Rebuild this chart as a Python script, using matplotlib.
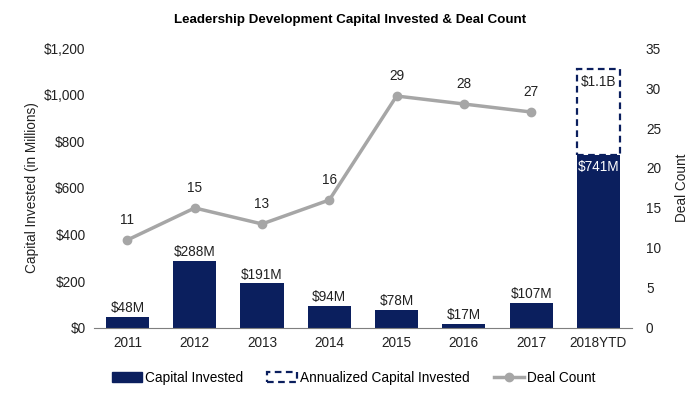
import matplotlib
matplotlib.use("Agg")
import matplotlib.pyplot as plt
from matplotlib.patches import Rectangle
from matplotlib.lines import Line2D

plt.rcParams['font.family'] = ['Liberation Sans', 'DejaVu Sans']

years = ["2011", "2012", "2013", "2014", "2015", "2016", "2017", "2018YTD"]
capital = [48, 288, 191, 94, 78, 17, 107, 741]
cap_labels = ["$48M", "$288M", "$191M", "$94M", "$78M", "$17M", "$107M", "$741M"]
annualized = 1110
annualized_label = "$1.1B"
deals = [11, 15, 13, 16, 29, 28, 27]

navy = "#0b1f5e"
gray = "#a6a6a6"
fs = 9.8

fig = plt.figure(figsize=(7, 3.97), dpi=100)
ax = fig.add_axes([0.134, 0.174, 0.769, 0.705])
ax2 = ax.twinx()

x = list(range(len(years)))
w = 0.64
ax.bar(x, capital, width=w, color=navy, zorder=2)
# annualized dashed box on top of the YTD bar
ax.bar(x[-1], annualized - capital[-1], bottom=capital[-1], width=w,
       facecolor="none", edgecolor=navy, linestyle=(0, (3, 2)), linewidth=1.6, zorder=3)

for i, (v, lab) in enumerate(zip(capital, cap_labels)):
    if i == len(years) - 1:
        ax.text(i, v - 20, lab, ha="center", va="top", color="white", fontsize=fs)
    else:
        ax.text(i, v + 8, lab, ha="center", va="bottom", color="#222222", fontsize=fs)
ax.text(x[-1], annualized - 25, annualized_label, ha="center", va="top", color="#222222", fontsize=fs)

ax2.plot(x[:len(deals)], deals, color=gray, linewidth=2.5, marker="o", markersize=6, zorder=4)
for i, d in enumerate(deals):
    ax2.text(i, d + 1.6, str(d), ha="center", va="bottom", color="#222222", fontsize=fs)

ax.set_xlim(-0.5, len(years) - 0.5)
ax.set_ylim(0, 1200)
ax.set_yticks(range(0, 1201, 200))
ax.set_yticklabels(["$0"] + [f"${v:,}" for v in range(200, 1201, 200)])
ax2.set_ylim(0, 35)
ax2.set_yticks(range(0, 36, 5))
ax.set_xticks(x)
ax.set_xticklabels(years)

for a in (ax, ax2):
    for s in ("top", "left", "right"):
        a.spines[s].set_visible(False)
    a.tick_params(length=0, labelsize=fs, colors="#222222")
ax.spines["bottom"].set_color("#7f7f7f")
ax2.spines["bottom"].set_visible(False)
ax.tick_params(axis="x", pad=6)
ax.tick_params(axis="y", pad=6)
ax2.tick_params(axis="y", pad=10)

ax.set_ylabel("Capital Invested (in Millions)", fontsize=fs, color="#222222")
ax2.set_ylabel("Deal Count", fontsize=fs, color="#222222", labelpad=10)

fig.suptitle("Leadership Development Capital Invested & Deal Count", fontsize=9.6,
             fontweight="bold", y=0.965, x=0.5)

handles = [
    Rectangle((0, 0), 1, 1, facecolor=navy, edgecolor=navy),
    Rectangle((0, 0), 1, 1, facecolor="none", edgecolor=navy, linestyle=(0, (3, 2)), linewidth=1.6),
    Line2D([0], [0], color=gray, linewidth=2.5, marker="o", markersize=6),
]
fig.legend(handles, ["Capital Invested", "Annualized Capital Invested", "Deal Count"],
           loc="lower center", bbox_to_anchor=(0.505, 0.0), ncol=3, frameon=False,
           fontsize=fs, handlelength=2.2, handletextpad=0.2, columnspacing=1.8)

fig.savefig("out.png", dpi=100)
